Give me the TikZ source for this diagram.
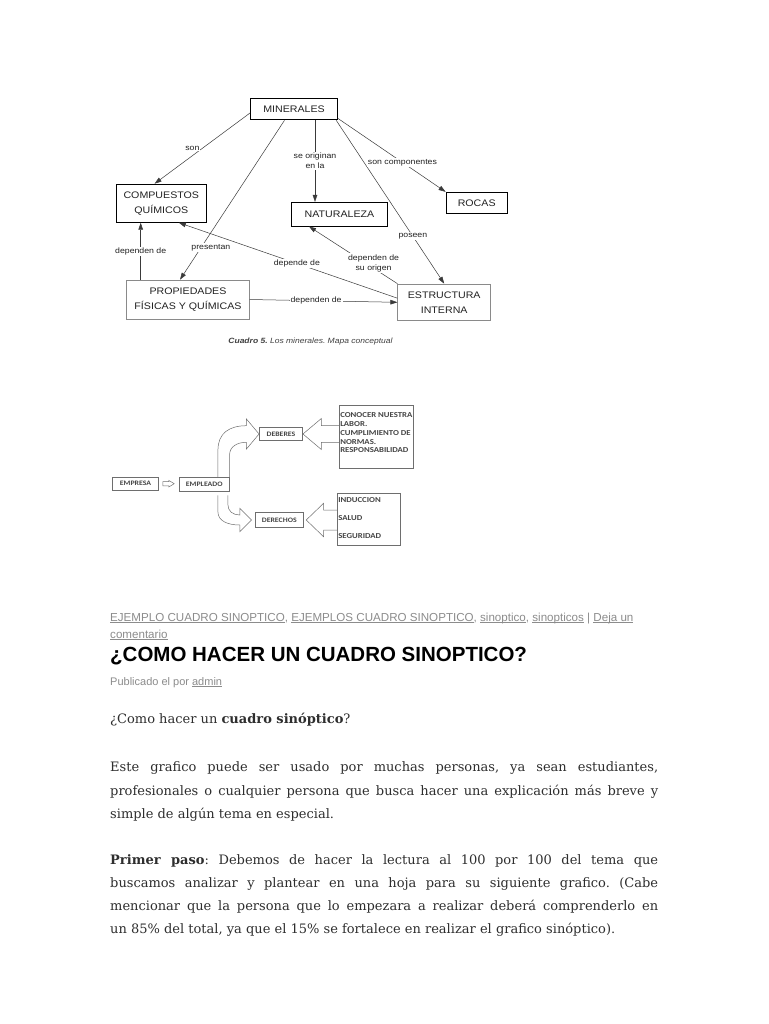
\documentclass[tikz,border=0pt]{standalone}
\usepackage{fontspec}
\setmainfont{DejaVu Serif}
\setsansfont{Liberation Sans}
\newfontfamily\mapafont[FakeStretch=1.12]{Liberation Sans}
\newfontfamily\calibri[FakeStretch=1.15]{Carlito}
\usetikzlibrary{arrows.meta, positioning, calc}
\definecolor{mapLine}{HTML}{3A3A3A}
\definecolor{mapText}{HTML}{222222}
\definecolor{mapGray}{HTML}{8A8A8A}
\definecolor{cuadroLine}{HTML}{6E6E6E}
\definecolor{cuadroText}{HTML}{454545}
\definecolor{webGray}{HTML}{8C8C8C}
\definecolor{webText}{HTML}{2E2E2E}
\newcommand{\subrayado}[1]{\underline{\smash{#1}}}
\frenchspacing

\begin{document}
\begin{tikzpicture}[x=1pt, y=-1pt,
  %% --- mapa conceptual ---
  concepto/.style={
    rectangle, draw=black, line width=0.9pt, inner sep=0pt,
    align=center, font=\mapafont\fontsize{9.5}{15}\selectfont, text=mapText
  },
  conceptoGris/.style={concepto, draw=mapGray, line width=0.6pt},
  flecha/.style={-{Triangle[length=7pt,width=4.6pt]}, line width=0.5pt, draw=mapLine},
  enlace/.style={
    font=\mapafont\fontsize{7.8}{10}\selectfont, fill=white,
    inner sep=1pt, align=center, text=mapText
  },
  %% --- cuadro sinoptico ---
  caja/.style={
    rectangle, draw=cuadroLine, line width=0.5pt, inner sep=0pt,
    font=\calibri\bfseries\fontsize{6.8}{9}\selectfont, text=cuadroText
  },
  bloque/.style={draw=cuadroLine, line width=0.5pt, line join=miter},
  lista/.style={
    align=left, inner sep=0pt, text=cuadroText,
    font=\calibri\bfseries\fontsize{7.6}{8.9}\selectfont
  },
  %% --- pagina ---
  etiqueta/.style={
    anchor=base west, inner sep=0pt, text=webGray,
    font=\sffamily\fontsize{11.6}{14}\selectfont
  },
  parrafo/.style={
    anchor=base west, inner sep=0pt, text=webText,
    font=\fontsize{13}{15}\selectfont
  }
]
\fill[white] (0,0) rectangle (768,1024);
\useasboundingbox (0,0) rectangle (768,1024);

%% =========================================================
%% MAPA CONCEPTUAL — los minerales
%% =========================================================
\node (minerales)   [concepto, minimum width=86.6pt, minimum height=21.7pt] at (294,109) {MINERALES};
\node (compuestos)  [concepto, line width=0.7pt, minimum width=90.7pt, minimum height=38.3pt] at (161.3,203.2) {COMPUESTOS\\QUÍMICOS};
\node (naturaleza)  [concepto, minimum width=95.6pt, minimum height=23.7pt] at (339.5,214.2) {NATURALEZA};
\node (rocas)       [concepto, minimum width=61.3pt, minimum height=21pt] at (476.7,202.8) {ROCAS};
\node (propiedades) [conceptoGris, minimum width=122.6pt, minimum height=39pt] at (188,299.5) {PROPIEDADES\\FÍSICAS Y QUÍMICAS};
\node (estructura)  [conceptoGris, minimum width=93pt, minimum height=36.7pt] at (444.2,302.3) {ESTRUCTURA\\INTERNA};
\node (cuadro5) [font=\mapafont\itshape\fontsize{7.6}{9}\selectfont, text=black!75] at (310.5,341.7)
      {\textbf{Cuadro 5.} Los minerales. Mapa conceptual};

\coordinate (origen) at ($(minerales.south)+(21,0)$);
\coordinate (baseDepende) at ($(propiedades.north)+(-47.3,0)$);

\draw[flecha] (minerales.185) -- node[enlace, pos=.5, xshift=-10pt]{son} (compuestos.109);
\draw[flecha] (minerales.230) -- node[enlace, pos=.8, xshift=10pt]{presentan} (propiedades.112);
\draw[flecha] (origen) -- node[enlace]{se originan\\en la} (origen |- naturaleza.north);
\draw[flecha] (minerales.345) -- node[enlace, pos=.71]{poseen} (estructura.north);
\draw[flecha] (minerales.348) -- node[enlace, pos=.6]{son componentes} (rocas.north west);
\draw[flecha] (baseDepende) -- node[enlace]{dependen de} (baseDepende |- compuestos.south);
\draw[flecha] (estructura.175) -- node[enlace, pos=.46]{depende de} (compuestos.312);
\draw[flecha] (estructura.north west) -- node[enlace, pos=.36, xshift=8pt]{dependen de\\su origen} (naturaleza.202);
\draw[flecha] (propiedades.east) -- node[enlace, pos=.45]{dependen de} (estructura.west);

%% =========================================================
%% CUADRO SINOPTICO — empresa / empleado
%% =========================================================
\node (empresa)  [caja, minimum width=45.6pt, minimum height=12.7pt] at (135.5,483.7) {EMPRESA};
\node (empleado) [caja, minimum width=50pt, minimum height=14.4pt] at (204.3,484.5) {EMPLEADO};
\node (deberes)  [caja, minimum width=43.4pt, minimum height=13.4pt] at (281,434) {DEBERES};
\node (derechos) [caja, minimum width=48pt, minimum height=14.6pt] at (279.3,520) {DERECHOS};
\node (listaDeberes)  [caja, minimum width=74pt, minimum height=63.3pt] at (376.3,436.7) {};
\node (listaDerechos) [caja, minimum width=62.7pt, minimum height=52.3pt] at (368.7,518.9) {};

\node (textoDeberes) [lista, below right=7.4pt and 1pt of listaDeberes.north west]
      {CONOCER NUESTRA\\LABOR.\\CUMPLIMIENTO DE\\NORMAS.\\RESPONSABILIDAD};
\node (textoDerechos) [lista, font=\calibri\bfseries\fontsize{7.6}{18}\selectfont,
      below right=4.7pt and 1pt of listaDerechos.north west]
      {INDUCCION\\SALUD\\SEGURIDAD};

\coordinate (puntaDerechos) at ($(derechos.west)+(-3.6,0)$);
\coordinate (puntaLista) at ($(derechos.east)+(2.7,0)$);

%% empresa -> empleado
\draw[bloque] ($(empresa.east)+(4.4,-2.2)$) -- ++(5.8,0) -- ++(0,-1.1) -- ++(5.5,3.3)
    -- ++(-5.5,3.3) -- ++(0,-1.1) -- ++(-5.8,0) -- cycle;

%% empleado -> deberes (curva hacia arriba)
\draw[bloque] ($(empleado.north east)+(-11.6,0)$) -- ($(empleado.north east)+(-11.6,-27)$)
    .. controls +(0,-17) and +(-17,0) .. ($(deberes.west)+(-12.6,-8.3)$)
    -- ++(0,-6.7) -- (deberes.west) -- ++(-12.6,15) -- ++(0,-6.7)
    .. controls +(-10,0) and +(0,-8) .. ($(empleado.north east)+(0,-22)$)
    -- (empleado.north east);

%% empleado -> derechos (curva hacia abajo)
\draw[bloque] ($(empleado.south east)+(-11.6,3.3)$) -- ($(empleado.south east)+(-11.6,20)$)
    .. controls +(0,9) and +(-12,0) .. ($(puntaDerechos)+(-11.7,5)$)
    -- ++(0,6.7) -- (puntaDerechos) -- ++(-11.7,-11.7) -- ++(0,6.7)
    .. controls +(-7,0) and +(0,6) .. ($(empleado.south east)+(-1.6,13)$)
    -- ($(empleado.south east)+(-1.6,3.3)$);

%% listas -> deberes / derechos
\draw[bloque] ($(deberes.east)+(36.6,-8.3)$) -- ++(-18.2,0) -- ++(0,-7.2) -- (deberes.east)
    -- ++(18.4,15.5) -- ++(0,-7.2) -- ++(18.2,0);
\draw[bloque] ($(puntaLista)+(31.3,-10)$) -- ++(-14,0) -- ++(0,-6.7) -- (puntaLista)
    -- ++(17.3,16.7) -- ++(0,-6.7) -- ++(14,0);

%% =========================================================
%% TEXTO DE LA PAGINA
%% =========================================================
\node (etiquetas) [etiqueta] at (110,621)
      {\subrayado{EJEMPLO CUADRO SINOPTICO}, \subrayado{EJEMPLOS CUADRO SINOPTICO}, \subrayado{sinoptico}, \subrayado{sinopticos} | \subrayado{Deja un}};
\node (comentario) [etiqueta] at (110,638) {\subrayado{comentario}};
\node (titulo) [anchor=base west, inner sep=0pt, text=black,
      font=\sffamily\bfseries\fontsize{20.5}{24}\selectfont] at (110,661) {¿COMO HACER UN CUADRO SINOPTICO?};
\node (publicado) [etiqueta, font=\sffamily\fontsize{11}{13}\selectfont] at (110,685)
      {Publicado el por \subrayado{admin}};

\node (pregunta) [parrafo] at (110,723) {¿Como hacer un \textbf{cuadro sinóptico}?};
\node (linea1) [parrafo] at (110,771) {\makebox[548pt][s]{Este grafico puede ser usado por muchas personas, ya sean estudiantes,}};
\node (linea2) [parrafo] at (110,795) {\makebox[548pt][s]{profesionales o cualquier persona que busca hacer una explicación más breve y}};
\node (linea3) [parrafo] at (110,818) {simple de algún tema en especial.};
\node (linea4) [parrafo] at (110,864) {\makebox[548pt][s]{\textbf{Primer paso}: Debemos de hacer la lectura al 100 por 100 del tema que}};
\node (linea5) [parrafo] at (110,887) {\makebox[548pt][s]{buscamos analizar y plantear en una hoja para su siguiente grafico. (Cabe}};
\node (linea6) [parrafo] at (110,910) {\makebox[548pt][s]{mencionar que la persona que lo empezara a realizar deberá comprenderlo en}};
\node (linea7) [parrafo] at (110,933) {un 85\% del total, ya que el 15\% se fortalece en realizar el grafico sinóptico).};

\end{tikzpicture}
\end{document}
